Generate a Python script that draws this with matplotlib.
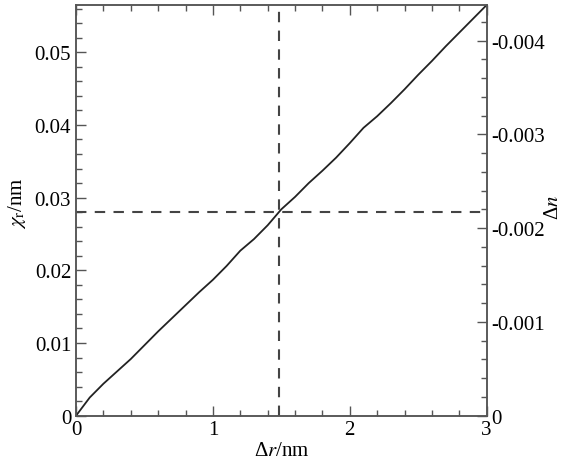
import matplotlib as mpl
mpl.use('Agg')
import matplotlib.pyplot as plt
from matplotlib.ticker import MultipleLocator, FuncFormatter

plt.rcParams['font.family'] = ['Liberation Serif', 'DejaVu Serif']
plt.rcParams['mathtext.fontset'] = 'stix'

# data
dr = [0, 0.1, 0.2, 0.3, 0.4, 0.5, 0.6, 0.7, 0.8, 0.9, 1.0,
      1.1, 1.2, 1.3, 1.4, 1.5, 1.6, 1.7, 1.8, 1.9, 2.0,
      2.1, 2.2, 2.3, 2.4, 2.5, 2.6, 2.7, 2.8, 2.9, 3.0]
chi = [0, 0.0025, 0.0044, 0.0061, 0.0078, 0.0097, 0.0116, 0.0134, 0.0152, 0.0170, 0.0187,
       0.0206, 0.0227, 0.0243, 0.0262, 0.0284, 0.0301, 0.0320, 0.0337, 0.0355, 0.0375,
       0.0396, 0.0412, 0.0430, 0.0449, 0.0469, 0.0488, 0.0508, 0.0527, 0.0546, 0.0565]
x_mark = 1.485
y_mark = 0.028

spine_c = '#555555'

fig = plt.figure(figsize=(5.64, 4.64), dpi=100)
ax = fig.add_axes([0.1348, 0.1019, 0.7281, 0.8852])

ax.plot(dr, chi, color='#222222', lw=1.3)
ax.axvline(x_mark, color='#444444', lw=1.5, ls=(0, (5, 4)))
ax.axhline(y_mark, color='#444444', lw=1.5, ls=(0, (5, 4)))

ax.set_xlim(0, 3)
ax.set_ylim(0, 0.0565)
ax.xaxis.set_major_locator(MultipleLocator(1))
ax.xaxis.set_minor_locator(MultipleLocator(0.2))
ax.yaxis.set_major_locator(MultipleLocator(0.01))
ax.yaxis.set_minor_locator(MultipleLocator(0.002))
ax.xaxis.set_major_formatter(FuncFormatter(lambda v, p: '%g' % v))
ax.yaxis.set_major_formatter(FuncFormatter(lambda v, p: '0' if abs(v) < 1e-12 else '%.2f' % v))
ax.tick_params(which='both', direction='in', top=True, right=False, labelsize=15, color=spine_c, width=1)
ax.tick_params(which='major', length=7)
ax.tick_params(which='minor', length=4)
ax.tick_params(axis='x', which='major', pad=3)

ax2 = ax.twinx()
ax2.set_ylim(0, 0.00438)
ax2.yaxis.set_major_locator(MultipleLocator(0.001))
ax2.yaxis.set_minor_locator(MultipleLocator(0.0002))
ax2.yaxis.set_major_formatter(FuncFormatter(lambda v, p: '0' if abs(v) < 1e-12 else '-%.3f' % v))
ax2.tick_params(which='both', direction='in', labelsize=15, color=spine_c, width=1)
ax2.tick_params(which='major', length=7, pad=3)
ax2.tick_params(which='minor', length=4)

for a in (ax, ax2):
    for s in a.spines.values():
        s.set_color(spine_c)
        s.set_linewidth(1.1)

ax.set_xlabel('Δ$r$/nm', fontsize=15)
ax.set_ylabel('$\\chi_{\\rm r}$/nm', fontsize=15)
ax2.set_ylabel('Δ$n$', fontsize=15)
ax.xaxis.set_label_coords(0.5, -0.062)
ax.yaxis.set_label_coords(-0.118, 0.52)
ax2.yaxis.set_label_coords(1.14, 0.51)

plt.savefig('out.png', dpi=100)
plt.close()
